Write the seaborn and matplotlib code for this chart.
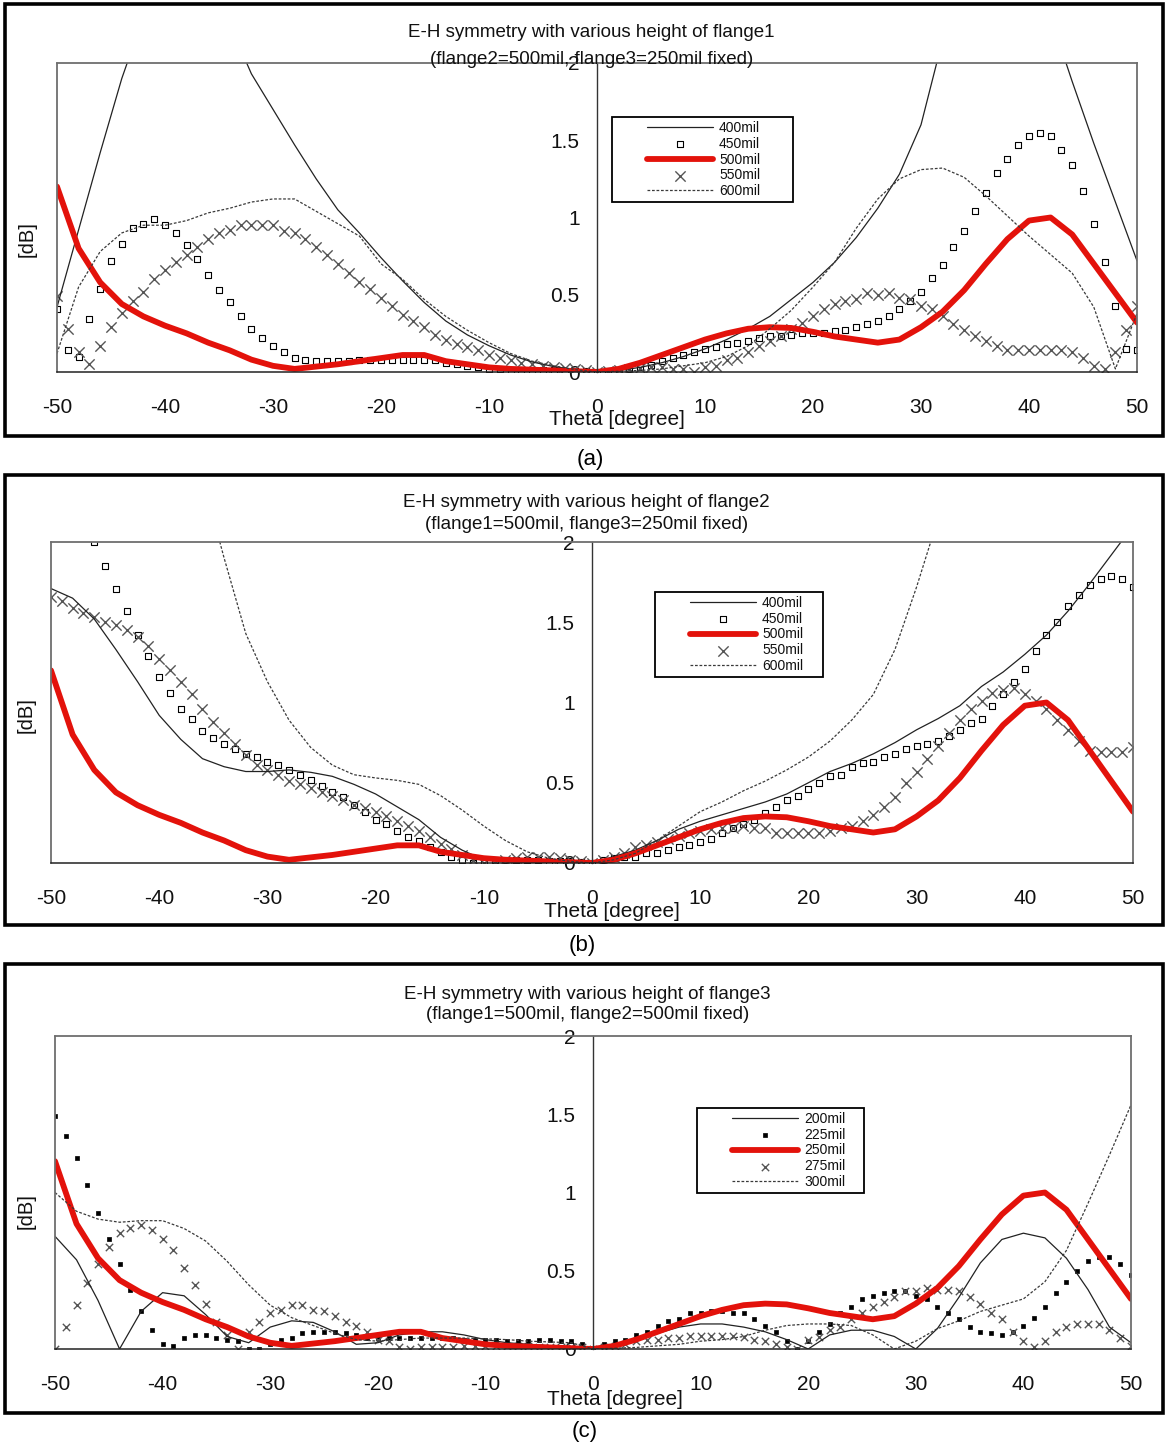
import numpy as np
import matplotlib
matplotlib.use("Agg")
import matplotlib.pyplot as plt
import seaborn as sns
from matplotlib.patches import Rectangle
from matplotlib.lines import Line2D
from matplotlib.collections import PathCollection
from matplotlib.legend_handler import HandlerLine2D, HandlerPathCollection

# ---------------- data ----------------
THETA_FINE = np.arange(-50, 51, 1)      # marker series (1 degree)
THETA_COARSE = np.arange(-50, 51, 2)    # line series (2 degree)
X_TICKS = [-50, -40, -30, -20, -10, 0, 10, 20, 30, 40, 50]
Y_TICKS = [0, 0.5, 1, 1.5, 2]
Y_TICK_LABELS = ["0", "0.5", "1", "1.5", "2"]

# reference curve (500mil in a/b, 250mil in c)
REF_CURVE = [1.20, 0.80, 0.58, 0.44, 0.36, 0.30, 0.25, 0.19, 0.14, 0.08, 0.04, 0.02, 0.035,
             0.05, 0.07, 0.09, 0.11, 0.11, 0.07, 0.05, 0.03, 0.02, 0.015, 0.01, 0.005,
             0.0, 0.02, 0.06, 0.11, 0.16, 0.21, 0.25, 0.28, 0.29, 0.285, 0.26, 0.23, 0.21,
             0.19, 0.21, 0.29, 0.39, 0.53, 0.70, 0.86, 0.98, 1.00, 0.89, 0.70, 0.51, 0.32]

# panel (a): flange1 varied
A_400 = [0.42, 0.92, 1.42, 1.90, 2.30, 2.50, 2.60, 2.50, 2.25, 1.93, 1.70, 1.47, 1.25,
         1.05, 0.90, 0.74, 0.59, 0.45, 0.33, 0.24, 0.17, 0.11, 0.065, 0.035, 0.015,
         0.0, 0.01, 0.03, 0.06, 0.10, 0.15, 0.21, 0.28, 0.36, 0.47, 0.58, 0.71, 0.87,
         1.06, 1.28, 1.60, 2.15, 2.40, 2.55, 2.60, 2.50, 2.30, 1.88, 1.48, 1.10, 0.72]
A_450 = [0.41, 0.14, 0.10, 0.34, 0.54, 0.72, 0.83, 0.93, 0.96, 0.99,
         0.95, 0.90, 0.82, 0.73, 0.63, 0.53, 0.45, 0.36, 0.28, 0.22,
         0.17, 0.13, 0.09, 0.08, 0.07, 0.07, 0.07, 0.07, 0.075, 0.08,
         0.08, 0.08, 0.08, 0.08, 0.08, 0.08, 0.06, 0.05, 0.04, 0.03,
         0.02, 0.02, 0.015, 0.015, 0.01, 0.01, 0.01, 0.005, 0.005, 0.005,
         0.0, 0.005, 0.01, 0.02, 0.03, 0.045, 0.07, 0.09, 0.11, 0.13,
         0.15, 0.16, 0.18, 0.19, 0.20, 0.22, 0.23, 0.23, 0.24, 0.25,
         0.25, 0.255, 0.265, 0.27, 0.29, 0.31, 0.33, 0.36, 0.41, 0.46,
         0.52, 0.61, 0.69, 0.81, 0.91, 1.04, 1.16, 1.29, 1.38, 1.47,
         1.53, 1.55, 1.53, 1.44, 1.34, 1.17, 0.96, 0.71, 0.43, 0.15, 0.14]
A_550 = [0.49, 0.28, 0.13, 0.05, 0.17, 0.29, 0.38, 0.46, 0.52, 0.60,
         0.66, 0.71, 0.76, 0.81, 0.86, 0.90, 0.92, 0.95, 0.95, 0.95,
         0.95, 0.91, 0.90, 0.86, 0.81, 0.76, 0.70, 0.64, 0.58, 0.54,
         0.48, 0.43, 0.37, 0.33, 0.29, 0.24, 0.21, 0.18, 0.16, 0.14,
         0.11, 0.09, 0.08, 0.06, 0.05, 0.04, 0.03, 0.025, 0.02, 0.01,
         0.0, 0.005, 0.01, 0.02, 0.025, 0.03, 0.03, 0.02, 0.02, 0.0,
         0.03, 0.04, 0.08, 0.09, 0.13, 0.17, 0.20, 0.23, 0.28, 0.32,
         0.36, 0.41, 0.44, 0.46, 0.47, 0.51, 0.50, 0.51, 0.48, 0.47,
         0.43, 0.41, 0.36, 0.31, 0.27, 0.23, 0.20, 0.17, 0.14, 0.14,
         0.14, 0.14, 0.14, 0.14, 0.13, 0.09, 0.04, 0.02, 0.13, 0.27, 0.43]
A_600 = [0.12, 0.55, 0.78, 0.90, 0.95, 0.95, 0.98, 1.03, 1.06, 1.10, 1.12, 1.12, 1.04,
         0.96, 0.88, 0.70, 0.60, 0.47, 0.36, 0.27, 0.19, 0.12, 0.07, 0.04, 0.015,
         0.0, 0.005, 0.01, 0.02, 0.04, 0.06, 0.10, 0.17, 0.28, 0.40, 0.55, 0.71, 0.93,
         1.12, 1.25, 1.31, 1.32, 1.26, 1.14, 1.01, 0.88, 0.76, 0.64, 0.42, 0.02, 0.38]

# panel (b): flange2 varied
B_400 = [1.71, 1.65, 1.52, 1.33, 1.13, 0.92, 0.77, 0.65, 0.60, 0.57, 0.57, 0.58, 0.565,
         0.54, 0.49, 0.43, 0.35, 0.27, 0.16, 0.08, 0.02, 0.02, 0.02, 0.02, 0.01,
         0.0, 0.04, 0.08, 0.14, 0.21, 0.26, 0.30, 0.34, 0.38, 0.43, 0.50, 0.57, 0.62,
         0.68, 0.75, 0.83, 0.90, 0.98, 1.10, 1.19, 1.30, 1.42, 1.57, 1.74, 1.92, 2.10]
B_450 = [2.80, 2.60, 2.45, 2.30, 2.00, 1.85, 1.71, 1.57, 1.42, 1.29,
         1.16, 1.06, 0.96, 0.90, 0.82, 0.78, 0.74, 0.71, 0.68, 0.66,
         0.63, 0.61, 0.58, 0.55, 0.52, 0.48, 0.44, 0.41, 0.36, 0.32,
         0.27, 0.24, 0.20, 0.16, 0.14, 0.10, 0.07, 0.04, 0.02, 0.0,
         0.01, 0.02, 0.02, 0.02, 0.02, 0.02, 0.015, 0.01, 0.01, 0.005,
         0.0, 0.02, 0.03, 0.04, 0.04, 0.06, 0.06, 0.08, 0.10, 0.11,
         0.13, 0.15, 0.19, 0.22, 0.24, 0.27, 0.31, 0.35, 0.39, 0.42,
         0.46, 0.50, 0.54, 0.55, 0.60, 0.62, 0.63, 0.66, 0.68, 0.71,
         0.73, 0.74, 0.76, 0.79, 0.83, 0.87, 0.90, 0.98, 1.05, 1.13,
         1.21, 1.32, 1.42, 1.50, 1.60, 1.67, 1.73, 1.77, 1.79, 1.77, 1.72]
B_550 = [1.66, 1.63, 1.59, 1.56, 1.53, 1.50, 1.48, 1.45, 1.41, 1.35,
         1.27, 1.20, 1.13, 1.05, 0.96, 0.88, 0.81, 0.74, 0.67, 0.61,
         0.58, 0.55, 0.51, 0.49, 0.47, 0.44, 0.42, 0.39, 0.36, 0.34,
         0.32, 0.29, 0.26, 0.23, 0.20, 0.16, 0.12, 0.09, 0.05, 0.02,
         0.0, 0.0, 0.02, 0.03, 0.04, 0.04, 0.04, 0.03, 0.02, 0.01,
         0.0, 0.02, 0.04, 0.06, 0.10, 0.11, 0.13, 0.15, 0.17, 0.19,
         0.20, 0.21, 0.22, 0.22, 0.23, 0.22, 0.22, 0.19, 0.19, 0.19,
         0.19, 0.19, 0.20, 0.22, 0.23, 0.26, 0.30, 0.35, 0.41, 0.50,
         0.57, 0.65, 0.73, 0.81, 0.89, 0.96, 1.01, 1.06, 1.08, 1.09,
         1.05, 1.01, 0.96, 0.89, 0.83, 0.76, 0.70, 0.69, 0.69, 0.69, 0.72]
B_600 = [3.90, 3.70, 3.50, 3.30, 3.10, 2.90, 2.65, 2.40, 1.90, 1.43, 1.13, 0.89, 0.72,
         0.61, 0.55, 0.53, 0.515, 0.49, 0.42, 0.33, 0.23, 0.14, 0.07, 0.03, 0.01,
         0.0, 0.02, 0.06, 0.14, 0.23, 0.32, 0.38, 0.45, 0.51, 0.58, 0.66, 0.76, 0.89,
         1.05, 1.33, 1.72, 2.15, 2.60, 3.00, 3.30, 3.60, 3.90, 4.20, 4.50, 4.80, 5.00]

# panel (c): flange3 varied
C_200 = [0.72, 0.57, 0.31, 0.0, 0.24, 0.36, 0.34, 0.22, 0.08, 0.04, 0.14, 0.18, 0.17,
         0.11, 0.03, 0.04, 0.09, 0.11, 0.11, 0.09, 0.06, 0.04, 0.03, 0.02, 0.01,
         0.0, 0.02, 0.05, 0.10, 0.14, 0.16, 0.16, 0.14, 0.11, 0.06, 0.0, 0.09, 0.12,
         0.12, 0.08, 0.0, 0.13, 0.33, 0.55, 0.70, 0.74, 0.71, 0.58, 0.38, 0.14, 0.04]
C_225 = [1.49, 1.36, 1.22, 1.05, 0.87, 0.70, 0.54, 0.38, 0.24, 0.12,
         0.03, 0.02, 0.07, 0.09, 0.09, 0.07, 0.06, 0.05, 0.0, 0.0,
         0.03, 0.06, 0.07, 0.10, 0.11, 0.11, 0.11, 0.10, 0.09, 0.07,
         0.07, 0.07, 0.07, 0.07, 0.07, 0.07, 0.07, 0.07, 0.06, 0.06,
         0.06, 0.06, 0.05, 0.05, 0.05, 0.06, 0.06, 0.05, 0.05, 0.03,
         0.0, 0.03, 0.05, 0.06, 0.09, 0.11, 0.15, 0.18, 0.19, 0.23,
         0.23, 0.24, 0.24, 0.23, 0.23, 0.19, 0.15, 0.11, 0.05, 0.0,
         0.05, 0.11, 0.16, 0.23, 0.27, 0.32, 0.34, 0.36, 0.37, 0.37,
         0.34, 0.32, 0.27, 0.23, 0.19, 0.14, 0.11, 0.10, 0.09, 0.11,
         0.15, 0.20, 0.27, 0.36, 0.43, 0.50, 0.56, 0.59, 0.59, 0.54, 0.47]
C_275 = [0.0, 0.14, 0.28, 0.42, 0.54, 0.65, 0.74, 0.77, 0.79, 0.76,
         0.70, 0.63, 0.52, 0.41, 0.29, 0.17, 0.09, 0.0, 0.11, 0.17,
         0.23, 0.25, 0.28, 0.28, 0.25, 0.24, 0.21, 0.17, 0.15, 0.11,
         0.06, 0.05, 0.01, 0.0, 0.01, 0.01, 0.015, 0.015, 0.02, 0.02,
         0.02, 0.02, 0.02, 0.02, 0.02, 0.015, 0.015, 0.01, 0.01, 0.01,
         0.0, 0.01, 0.02, 0.03, 0.05, 0.06, 0.06, 0.07, 0.07, 0.08,
         0.08, 0.08, 0.08, 0.08, 0.075, 0.06, 0.05, 0.03, 0.01, 0.0,
         0.06, 0.075, 0.12, 0.14, 0.19, 0.23, 0.27, 0.30, 0.33, 0.37,
         0.37, 0.39, 0.38, 0.38, 0.37, 0.33, 0.29, 0.23, 0.19, 0.11,
         0.05, 0.01, 0.05, 0.11, 0.14, 0.16, 0.16, 0.16, 0.12, 0.07, 0.02]
C_300 = [1.00, 0.88, 0.83, 0.81, 0.82, 0.82, 0.77, 0.69, 0.56, 0.41, 0.28, 0.20, 0.15,
         0.10, 0.06, 0.05, 0.06, 0.07, 0.07, 0.07, 0.065, 0.06, 0.05, 0.045, 0.04,
         0.0, 0.005, 0.01, 0.02, 0.03, 0.05, 0.06, 0.08, 0.12, 0.15, 0.16, 0.16, 0.15,
         0.09, 0.0, 0.05, 0.13, 0.18, 0.24, 0.28, 0.32, 0.43, 0.63, 0.93, 1.24, 1.56]

LABELS_AB = ["400mil", "450mil", "500mil", "550mil", "600mil"]
LABELS_C = ["200mil", "225mil", "250mil", "275mil", "300mil"]

TITLE_A = "E-H symmetry with various height of flange1\n(flange2=500mil, flange3=250mil fixed)"
TITLE_B = "E-H symmetry with various height of flange2\n(flange1=500mil, flange3=250mil fixed)"
TITLE_C = "E-H symmetry with various height of flange3\n(flange1=500mil, flange2=500mil fixed)"

for arr in (REF_CURVE, A_400, A_600, B_400, B_600, C_200, C_300):
    assert len(arr) == len(THETA_COARSE)
for arr in (A_450, A_550, B_450, B_550, C_225, C_275):
    assert len(arr) == len(THETA_FINE)

# ---------------- style ----------------
sns.set_theme(style="white")
plt.rcParams['font.family'] = ['Liberation Sans', 'DejaVu Sans']
plt.rcParams['axes.unicode_minus'] = False

RED = "#e3120b"
FRAME_GRAY = "#6e6e6e"

fig = plt.figure(figsize=(11.68, 14.5), dpi=100)
fig.patch.set_facecolor("white")


def draw_panel(rect, solid, squares, xs, dashed, labels, title, title_y, title_ls,
               leg_x, leg_y, leg_w, ylab_xy, xlab_xy, fine=False):
    ax = fig.add_axes(rect)
    ax.set_facecolor("white")
    sq_size = 9 if fine else 16
    x_size = 28 if fine else 55
    sns.lineplot(x=THETA_COARSE, y=solid, ax=ax, color="#222222", lw=0.9, label=labels[0])
    if fine:
        sns.scatterplot(x=THETA_FINE, y=squares, ax=ax, marker="s", s=sq_size,
                        color="black", edgecolor="black", linewidth=0.5, label=labels[1])
    else:
        sns.scatterplot(x=THETA_FINE, y=squares, ax=ax, marker="s", s=sq_size,
                        color="white", edgecolor="black", linewidth=0.8, label=labels[1])
    sns.lineplot(x=THETA_COARSE, y=REF_CURVE, ax=ax, color=RED, lw=4.2, label=labels[2])
    sns.scatterplot(x=THETA_FINE, y=xs, ax=ax, marker="x", s=x_size, color="#555555",
                    linewidth=1.0, label=labels[3])
    sns.lineplot(x=THETA_COARSE, y=dashed, ax=ax, color="#3a3a3a", lw=0.9,
                 linestyle=(0, (2.2, 1.4)), label=labels[4])

    ax.set_xlim(-50, 50)
    ax.set_ylim(0, 2)
    ax.set_xticks(X_TICKS)
    ax.set_xticklabels([str(t) for t in X_TICKS])
    ax.set_yticks(Y_TICKS)
    ax.set_yticklabels(Y_TICK_LABELS)

    ax.spines['left'].set_position(('data', 0))
    ax.spines['left'].set_color("#333333")
    ax.spines['left'].set_linewidth(1.0)
    ax.spines['bottom'].set_color("#222222")
    ax.spines['bottom'].set_linewidth(1.1)
    for s in ('top', 'right'):
        ax.spines[s].set_color(FRAME_GRAY)
        ax.spines[s].set_linewidth(1.3)
    ax.axvline(-50, color=FRAME_GRAY, lw=1.3, clip_on=False)

    ax.tick_params(axis='x', direction='inout', length=11, width=1.0, color="#222222",
                   labelsize=15, pad=13, labelcolor="#111111")
    ax.tick_params(axis='y', direction='inout', length=11, width=1.0, color="#333333",
                   labelsize=15, pad=7, labelcolor="#111111")
    ax.grid(False)

    ax.set_xlabel("Theta [degree]", fontsize=15, color="#111111")
    ax.xaxis.set_label_coords(*xlab_xy)
    ax.set_ylabel("[dB]", fontsize=14.5, color="#111111")
    ax.yaxis.set_label_coords(*ylab_xy)

    ax.text(0.495, title_y, title, transform=ax.transAxes, ha="center", va="bottom",
            fontsize=13.5, linespacing=title_ls, color="#111111")

    hm = {Line2D: HandlerLine2D(xpad=2.2), PathCollection: HandlerPathCollection(xpad=2.2)}
    leg = ax.legend(loc="upper left", bbox_to_anchor=(leg_x, leg_y, leg_w, 0), mode="expand",
                    borderaxespad=0, frameon=True, fancybox=False, fontsize=10,
                    handlelength=7.0, handletextpad=0.4, labelspacing=0.12,
                    borderpad=0.3, framealpha=1, edgecolor="black", handler_map=hm)
    leg.get_frame().set_linewidth(1.3)
    for t in leg.get_texts():
        t.set_color("#111111")
    return ax


# panel (a)
draw_panel([57 / 1168, 1 - 372 / 1450, 1080 / 1168, 309 / 1450],
           A_400, A_450, A_550, A_600, LABELS_AB, TITLE_A, 0.985, 1.75,
           (612 - 57) / 1080, (372 - 117) / 309, 181 / 1080,
           (-0.019, 0.43), (0.518, -0.123))
# panel (b)
draw_panel([51 / 1168, 1 - 863 / 1450, 1082 / 1168, 321 / 1450],
           B_400, B_450, B_550, B_600, LABELS_AB, TITLE_B, 1.028, 1.35,
           (655 - 51) / 1082, (863 - 592) / 321, 168 / 1082,
           (-0.014, 0.46), (0.518, -0.121))
# panel (c)
draw_panel([55 / 1168, 1 - 1349 / 1450, 1076 / 1168, 313 / 1450],
           C_200, C_225, C_275, C_300, LABELS_C, TITLE_C, 1.04, 1.25,
           (697 - 55) / 1076, (1349 - 1108) / 313, 167 / 1076,
           (-0.018, 0.44), (0.52, -0.131), fine=True)

# outer frames and sub-captions
for (top, bottom) in [(4, 436), (475, 925), (964, 1413)]:
    fig.add_artist(Rectangle((5 / 1168, 1 - bottom / 1450), 1158 / 1168, (bottom - top) / 1450,
                             transform=fig.transFigure, fill=False, lw=2.6, ec="black"))
for txt, xc, yc in [("(a)", 590, 460), ("(b)", 582, 945), ("(c)", 585, 1432)]:
    fig.text(xc / 1168, 1 - yc / 1450, txt, ha="center", va="center", fontsize=16, color="black")

fig.savefig("out.png", dpi=100, facecolor="white")
